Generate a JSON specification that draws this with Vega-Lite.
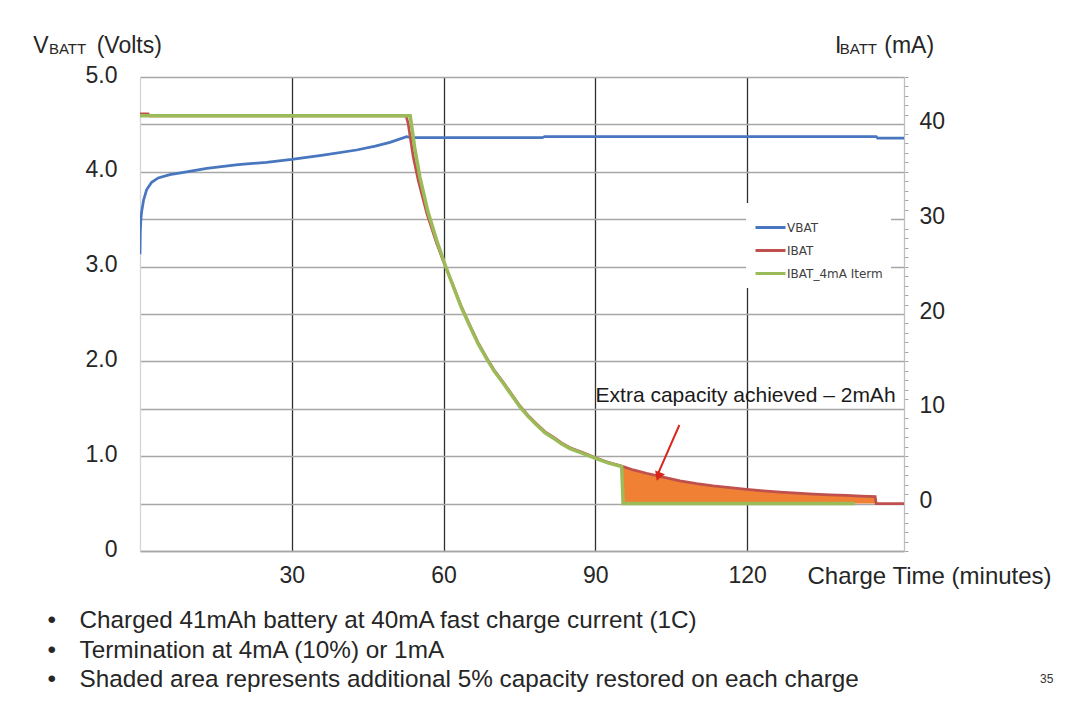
{
  "$schema": "https://vega.github.io/schema/vega-lite/v6.json",
  "width": 764,
  "height": 474,
  "autosize": {"type": "none"},
  "padding": {"left": 140, "top": 77, "right": 176, "bottom": 165},
  "background": "white",
  "config": {
    "font": "Liberation Sans",
    "view": {"stroke": null},
    "axis": {"labelColor": "#262626", "titleColor": "#262626", "labelFont": "Liberation Sans", "titleFont": "Liberation Sans"}
  },
  "datasets": {
    "vbat": [
      {"t": 0, "v": 3.13}, {"t": 0.05, "v": 3.35}, {"t": 0.15, "v": 3.48}, {"t": 0.3, "v": 3.57},
      {"t": 0.7, "v": 3.70}, {"t": 1.3, "v": 3.81}, {"t": 2.3, "v": 3.89}, {"t": 3.6, "v": 3.935},
      {"t": 5.9, "v": 3.97}, {"t": 9.2, "v": 4.0}, {"t": 13.2, "v": 4.035}, {"t": 19.4, "v": 4.075},
      {"t": 25, "v": 4.10}, {"t": 30, "v": 4.13}, {"t": 36.2, "v": 4.175}, {"t": 42.8, "v": 4.23},
      {"t": 46.5, "v": 4.27}, {"t": 49.4, "v": 4.31}, {"t": 52.7, "v": 4.37}, {"t": 53.6, "v": 4.36},
      {"t": 79.5, "v": 4.36}, {"t": 80, "v": 4.372}, {"t": 145.5, "v": 4.372}, {"t": 145.8, "v": 4.355},
      {"t": 151, "v": 4.355}
    ],
    "ibat": [
      {"t": 0, "i": 41.1}, {"t": 1.6, "i": 41.1}, {"t": 1.9, "i": 40.9}, {"t": 52.6, "i": 40.9},
      {"t": 53.0, "i": 40.1}, {"t": 54.0, "i": 36.6}, {"t": 55.0, "i": 34.1}, {"t": 56.7, "i": 30.6},
      {"t": 58.6, "i": 27.5}, {"t": 60.3, "i": 25.1}, {"t": 61.9, "i": 23.0}, {"t": 63.5, "i": 20.8},
      {"t": 65.2, "i": 18.8}, {"t": 66.8, "i": 17.0}, {"t": 68.5, "i": 15.4}, {"t": 70.1, "i": 14.0},
      {"t": 71.8, "i": 12.8}, {"t": 73.5, "i": 11.5}, {"t": 75.1, "i": 10.3}, {"t": 76.7, "i": 9.3},
      {"t": 78.4, "i": 8.4}, {"t": 80.0, "i": 7.6}, {"t": 81.7, "i": 7.0}, {"t": 83.3, "i": 6.4},
      {"t": 85.0, "i": 5.9}, {"t": 87.5, "i": 5.4}, {"t": 89.9, "i": 4.85}, {"t": 92.5, "i": 4.35},
      {"t": 95.2, "i": 3.95}, {"t": 97.5, "i": 3.55}, {"t": 100.1, "i": 3.2}, {"t": 103.4, "i": 2.8},
      {"t": 106.7, "i": 2.4}, {"t": 110.0, "i": 2.1}, {"t": 113.3, "i": 1.86}, {"t": 116.6, "i": 1.68},
      {"t": 119.9, "i": 1.5}, {"t": 123.2, "i": 1.35}, {"t": 126.5, "i": 1.22}, {"t": 129.8, "i": 1.1},
      {"t": 133.1, "i": 1.0}, {"t": 136.4, "i": 0.93}, {"t": 139.7, "i": 0.87}, {"t": 142.5, "i": 0.8},
      {"t": 145.3, "i": 0.73}, {"t": 145.5, "i": 0}, {"t": 151, "i": 0}
    ],
    "iterm": [
      {"t": 0, "i": 40.9}, {"t": 53.4, "i": 40.9}, {"t": 54.3, "i": 37.5}, {"t": 55.3, "i": 34.5},
      {"t": 56.9, "i": 30.8}, {"t": 58.8, "i": 27.5}, {"t": 60.3, "i": 25.2}, {"t": 61.9, "i": 22.9},
      {"t": 63.5, "i": 20.7}, {"t": 65.2, "i": 18.7}, {"t": 66.8, "i": 16.9}, {"t": 68.5, "i": 15.3},
      {"t": 70.1, "i": 13.9}, {"t": 71.8, "i": 12.7}, {"t": 73.5, "i": 11.4}, {"t": 75.1, "i": 10.2},
      {"t": 76.7, "i": 9.2}, {"t": 78.4, "i": 8.3}, {"t": 80.0, "i": 7.5}, {"t": 81.7, "i": 6.9},
      {"t": 83.3, "i": 6.3}, {"t": 85.0, "i": 5.8}, {"t": 87.5, "i": 5.3}, {"t": 89.9, "i": 4.8},
      {"t": 92.5, "i": 4.3}, {"t": 95.2, "i": 3.9}, {"t": 95.5, "i": 0}, {"t": 141.3, "i": 0}
    ],
    "arrow": [
      {"t": 106.6, "i": 8.29, "t2": 102.5, "i2": 3.3, "ht": 102.45, "hi": 2.85}
    ],
    "one": [{}]
  },
  "layer": [
    {
      "layer": [
        {
          "data": {"name": "vbat"},
          "mark": {"type": "line", "strokeWidth": 2.75, "clip": true},
          "encoding": {
            "x": {
              "field": "t", "type": "quantitative",
              "scale": {"domain": [0, 151], "nice": false, "zero": false},
              "axis": {
                "values": [30, 60, 90, 120], "grid": true, "gridColor": "#303030", "gridWidth": 1.3,
                "ticks": false, "tickSize": 0, "domainColor": "#a6a6a6", "domainWidth": 1.5,
                "labelFontSize": 23, "labelBaseline": "alphabetic", "labelPadding": 31,
                "labelFlush": false, "labelOverlap": false,
                "title": "Charge Time (minutes)", "titleFontSize": 24, "titleFontWeight": "normal",
                "titleX": 667, "titleY": 32, "titleAlign": "left", "titleBaseline": "alphabetic", "titleAngle": 0
              }
            },
            "y": {
              "field": "v", "type": "quantitative",
              "scale": {"domain": [0, 5], "nice": false, "zero": false},
              "axis": {
                "orient": "left",
                "values": [0, 0.5, 1, 1.5, 2, 2.5, 3, 3.5, 4, 4.5, 5],
                "tickCount": 100,
                "labelExpr": "datum.value == 0 ? '0' : (datum.value % 1 == 0 ? format(datum.value, '.1f') : '')",
                "grid": true, "gridColor": "#a6a6a6", "gridWidth": 1.3,
                "ticks": false, "tickSize": 0, "domainColor": "#d4d4d4", "domainWidth": 1.3,
                "labelFontSize": 23, "labelPadding": 23, "labelOffset": -2, "labelOverlap": false,
                "title": null
              }
            },
            "color": {
              "datum": "VBAT", "type": "nominal",
              "scale": {"domain": ["VBAT", "IBAT", "IBAT_4mA Iterm"], "range": ["#4876BF", "#C0504D", "#9BBB59"]},
              "legend": {
                "orient": "none", "legendX": 606, "legendY": 126, "title": null,
                "fillColor": "white", "padding": 8, "symbolType": "stroke", "symbolSize": 900,
                "symbolStrokeWidth": 3, "labelFont": "DejaVu Sans", "labelFontSize": 12,
                "labelColor": "#404040", "labelOffset": 0, "rowPadding": -2,
                "labelExpr": "datum.label == 'IBAT_4mA Iterm' ? datum.label + '\u00a0\u00a0\u00a0\u00a0' : datum.label"
              }
            }
          }
        },
        {
          "data": {"name": "one"},
          "mark": {"type": "text", "text": "V", "fontSize": 23, "align": "left", "baseline": "alphabetic", "color": "#262626"},
          "encoding": {"x": {"datum": -21.1, "type": "quantitative"}, "y": {"datum": 5.253, "type": "quantitative"}}
        },
        {
          "data": {"name": "one"},
          "mark": {"type": "text", "text": "BATT", "fontSize": 15, "align": "left", "baseline": "alphabetic", "color": "#262626"},
          "encoding": {"x": {"datum": -18.0, "type": "quantitative"}, "y": {"datum": 5.245, "type": "quantitative"}}
        },
        {
          "data": {"name": "one"},
          "mark": {"type": "text", "text": "(Volts)", "fontSize": 23, "align": "left", "baseline": "alphabetic", "color": "#262626"},
          "encoding": {"x": {"datum": -8.56, "type": "quantitative"}, "y": {"datum": 5.253, "type": "quantitative"}}
        },
        {
          "data": {"name": "one"},
          "mark": {"type": "text", "text": "I", "fontSize": 23, "align": "left", "baseline": "alphabetic", "color": "#262626"},
          "encoding": {"x": {"datum": 137.35, "type": "quantitative"}, "y": {"datum": 5.253, "type": "quantitative"}}
        },
        {
          "data": {"name": "one"},
          "mark": {"type": "text", "text": "BATT", "fontSize": 15, "align": "left", "baseline": "alphabetic", "color": "#262626"},
          "encoding": {"x": {"datum": 138.3, "type": "quantitative"}, "y": {"datum": 5.245, "type": "quantitative"}}
        },
        {
          "data": {"name": "one"},
          "mark": {"type": "text", "text": "(mA)", "fontSize": 23, "align": "left", "baseline": "alphabetic", "color": "#262626"},
          "encoding": {"x": {"datum": 147.1, "type": "quantitative"}, "y": {"datum": 5.253, "type": "quantitative"}}
        },
        {
          "data": {"name": "one"},
          "mark": {"type": "text", "text": ["•", "•", "•"], "lineHeight": 29.5, "fontSize": 24.3, "align": "left", "baseline": "alphabetic", "color": "#262626"},
          "encoding": {"x": {"datum": -18.28, "type": "quantitative"}, "y": {"datum": -0.815, "type": "quantitative"}}
        },
        {
          "data": {"name": "one"},
          "mark": {"type": "text", "text": ["Charged 41mAh battery at 40mA fast charge current (1C)", "Termination at 4mA (10%) or 1mA", "Shaded area represents additional 5% capacity restored on each charge"], "lineHeight": 29.5, "fontSize": 24.3, "align": "left", "baseline": "alphabetic", "color": "#262626"},
          "encoding": {"x": {"datum": -11.96, "type": "quantitative"}, "y": {"datum": -0.815, "type": "quantitative"}}
        },
        {
          "data": {"name": "one"},
          "mark": {"type": "text", "text": "35", "fontSize": 12, "align": "left", "baseline": "alphabetic", "color": "#333333"},
          "encoding": {"x": {"datum": 177.9, "type": "quantitative"}, "y": {"datum": -1.396, "type": "quantitative"}}
        }
      ]
    },
    {
      "layer": [
        {
          "data": {"name": "ibat"},
          "transform": [{"filter": "datum.t >= 95.2 && datum.t <= 145.3"}],
          "mark": {"type": "area", "color": "#EF8034", "opacity": 1},
          "encoding": {
            "x": {"field": "t", "type": "quantitative"},
            "y": {
              "field": "i", "type": "quantitative",
              "scale": {"domain": [-5, 45], "nice": false, "zero": false},
              "axis": {
                "orient": "right",
                "values": [-5, -4, -3, -2, -1, 0, 1, 2, 3, 4, 5, 6, 7, 8, 9, 10, 11, 12, 13, 14, 15, 16, 17, 18, 19, 20, 21, 22, 23, 24, 25, 26, 27, 28, 29, 30, 31, 32, 33, 34, 35, 36, 37, 38, 39, 40, 41, 42, 43, 44, 45],
                "tickCount": 100,
                "labelExpr": "datum.value % 10 === 0 ? format(datum.value, 'd') : ''",
                "grid": false, "ticks": true,
                "tickSize": {"condition": {"test": "datum.value % 10 === 0", "value": -9}, "value": 4},
                "tickColor": "#a6a6a6", "tickWidth": 1,
                "domainColor": "#bfbfbf", "domainWidth": 1.3,
                "labelFontSize": 23, "labelPadding": 24, "labelOffset": -3, "labelOverlap": false,
                "labelColor": "#262626",
                "title": null
              }
            },
            "y2": {"datum": 0}
          }
        },
        {
          "data": {"name": "ibat"},
          "mark": {"type": "line", "strokeWidth": 2.75, "clip": true},
          "encoding": {
            "x": {"field": "t", "type": "quantitative"},
            "y": {"field": "i", "type": "quantitative"},
            "color": {"datum": "IBAT", "type": "nominal"}
          }
        },
        {
          "data": {"name": "iterm"},
          "mark": {"type": "line", "strokeWidth": 3.5, "clip": true},
          "encoding": {
            "x": {"field": "t", "type": "quantitative"},
            "y": {"field": "i", "type": "quantitative"},
            "color": {"datum": "IBAT_4mA Iterm", "type": "nominal"}
          }
        },
        {
          "data": {"name": "arrow"},
          "mark": {"type": "rule", "color": "#D9261C", "strokeWidth": 2},
          "encoding": {
            "x": {"field": "t", "type": "quantitative"},
            "y": {"field": "i", "type": "quantitative"},
            "x2": {"field": "t2"},
            "y2": {"field": "i2"}
          }
        },
        {
          "data": {"name": "arrow"},
          "mark": {"type": "point", "shape": "triangle-up", "filled": true, "color": "#D9261C", "size": 110, "angle": 202, "opacity": 1},
          "encoding": {
            "x": {"field": "ht", "type": "quantitative"},
            "y": {"field": "hi", "type": "quantitative"}
          }
        },
        {
          "data": {"name": "one"},
          "mark": {"type": "text", "text": "Extra capacity achieved – 2mAh", "fontSize": 21, "align": "left", "baseline": "alphabetic", "color": "#1a1a1a"},
          "encoding": {"x": {"datum": 90.04, "type": "quantitative"}, "y": {"datum": 10.69, "type": "quantitative"}}
        }
      ]
    }
  ],
  "resolve": {"scale": {"y": "independent"}}
}
